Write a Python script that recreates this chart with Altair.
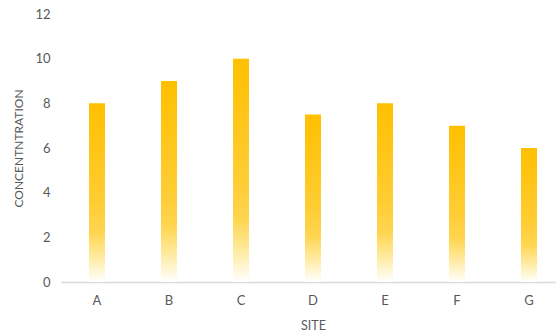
import altair as alt
import pandas as pd

# Concentration measured at each site
sites = ["A", "B", "C", "D", "E", "F", "G"]
concentration = [8, 9, 10, 7.5, 8, 7, 6]

df = pd.DataFrame({"SITE": sites, "CONCENTRATION": concentration})

text_color = "#595959"
font = "Lato"

# Gold bars fading to white towards the baseline
fade = alt.Gradient(
    gradient="linear",
    x1=0, y1=0, x2=0, y2=1,
    stops=[
        alt.GradientStop(color="#FFC000", offset=0),
        alt.GradientStop(color="#FFCC33", offset=0.55),
        alt.GradientStop(color="#FFD54F", offset=0.72),
        alt.GradientStop(color="#FFEAA0", offset=0.86),
        alt.GradientStop(color="#FFFFFF", offset=1),
    ],
)

chart = (
    alt.Chart(df)
    .mark_bar(color=fade, size=16)
    .encode(
        x=alt.X(
            "SITE:N",
            sort=sites,
            scale=alt.Scale(range=[0, 504], paddingInner=0, paddingOuter=0),
            axis=alt.Axis(
                title="SITE",
                labelAngle=0,
                ticks=False,
                domainColor="#D9D9D9",
                domainWidth=1.3,
                labelPadding=12,
                titlePadding=12,
                labelFontSize=13,
                titleFontSize=12.5,
                labelColor=text_color,
                titleColor=text_color,
                labelFont=font,
                titleFont=font,
                titleFontWeight="normal",
            ),
        ),
        y=alt.Y(
            "CONCENTRATION:Q",
            scale=alt.Scale(domain=[0, 12], nice=False),
            axis=alt.Axis(
                title="CONCENTNTRATION",
                values=[0, 2, 4, 6, 8, 10, 12],
                grid=False,
                domain=False,
                ticks=False,
                labelPadding=11,
                labelFontSize=13,
                titleFontSize=12,
                labelColor=text_color,
                titleColor=text_color,
                labelFont=font,
                titleFont=font,
                titleFontWeight="normal",
                titleX=-36,
            ),
        ),
    )
    .properties(
        width=495,
        height=268,
        autosize=alt.AutoSizeParams(type="none"),
        padding={"left": 61, "top": 14, "right": 0, "bottom": 50},
    )
    .configure_view(stroke=None)
)

chart.save("out.html", embed_options={"renderer": "svg", "actions": False})
